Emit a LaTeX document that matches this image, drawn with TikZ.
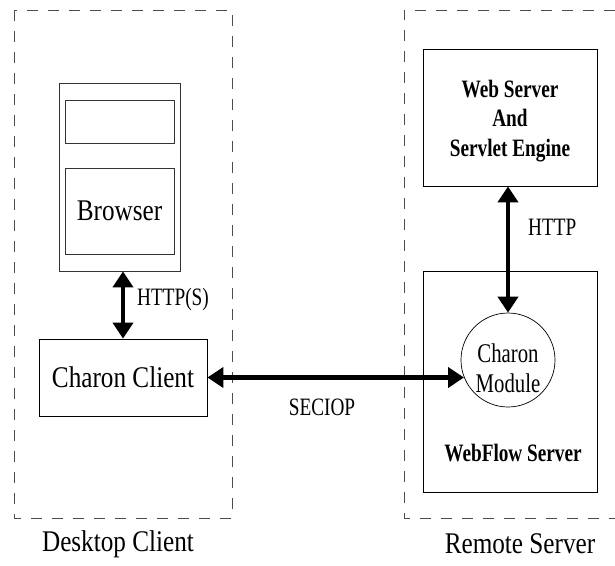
\documentclass[tikz,border=0pt]{standalone}
\usepackage{fontspec}
\setmainfont{Liberation Serif}
\usetikzlibrary{arrows.meta}
\newcommand\bsq[1]{\scalebox{0.84}[1]{#1}}
\newcommand\ssq[1]{\scalebox{0.77}[1]{#1}}
\tikzset{
  region/.style={draw=black!70, line width=0.9pt, dash pattern=on 11pt off 10pt},
  plain/.style={draw, line width=0.8pt, inner sep=0pt},
  bigfont/.style={font=\fontsize{30}{36}\selectfont},
  smfont/.style={font=\fontsize{25}{29.5}\selectfont},
  boldfont/.style={font=\fontsize{25}{29.5}\selectfont\bfseries},
  biarrow/.style={line width=4.5pt, {Triangle[length=16pt,width=20pt]}-{Triangle[length=16pt,width=20pt]}},
  lbl/.style={inner sep=0pt}
}
\begin{document}
\begin{tikzpicture}[x=1pt,y=-1pt]
\useasboundingbox (0,0) rectangle (615,565);
% dashed regions
\draw[region] (14,10) rectangle (232,518);
\draw[region] (615,10) -- (404,10) -- (404,518) -- (615,518);
% browser
\node[plain, draw=black!80, minimum width=121pt, minimum height=188pt] (br) at (119.5,177) {};
\node[plain, draw=black!80, minimum width=109pt, minimum height=43pt] (brtop) at (119.5,121.5) {};
\node[plain, draw=black!80, minimum width=109pt, minimum height=86pt, bigfont] (brmain) at (119.5,211) {\bsq{Browser}};
% charon client
\node[plain, minimum width=168pt, minimum height=77pt, bigfont] (cc) at (123,377.5) {\bsq{Charon Client}};
% web server
\node[plain, minimum width=174pt, minimum height=137pt] (ws) at (510,117.5) {};
\node[lbl, align=center, boldfont] (wst) at (510,121) {\ssq{Web Server}\\\ssq{And}\\\ssq{Servlet Engine}};
% webflow server
\node[plain, minimum width=174pt, minimum height=221pt] (wf) at (510,381.5) {};
\node[lbl, boldfont] (wft) at (513,453) {\ssq{WebFlow Server}};
% charon module
\node[draw, circle, line width=0.7pt, minimum size=94pt, inner sep=0pt] (cm) at (508,360) {};
\node[lbl, align=center, font=\fontsize{27}{30}\selectfont] (cmt) at (508,368) {\ssq{Charon}\\\ssq{Module}};
% arrows
\draw[biarrow] (cc.north |- br.south) -- (cc.north);
\draw[biarrow] (cm.north |- ws.south) -- (cm.north);
\coordinate (se) at (464,377.5);
\draw[biarrow] (cc.east) -- (se);
% labels
\node[lbl, anchor=west, smfont] (l1) at (137,299) {\ssq{HTTP(S)}};
\node[lbl, anchor=west, smfont] (l2) at (528,227) {\ssq{HTTP}};
\node[lbl, smfont] (l3) at (322,407) {\ssq{SECIOP}};
\node[lbl, bigfont] (l4) at (118,544) {\bsq{Desktop Client}};
\node[lbl, bigfont] (l5) at (520,544) {\bsq{Remote Server}};
\end{tikzpicture}
\end{document}
